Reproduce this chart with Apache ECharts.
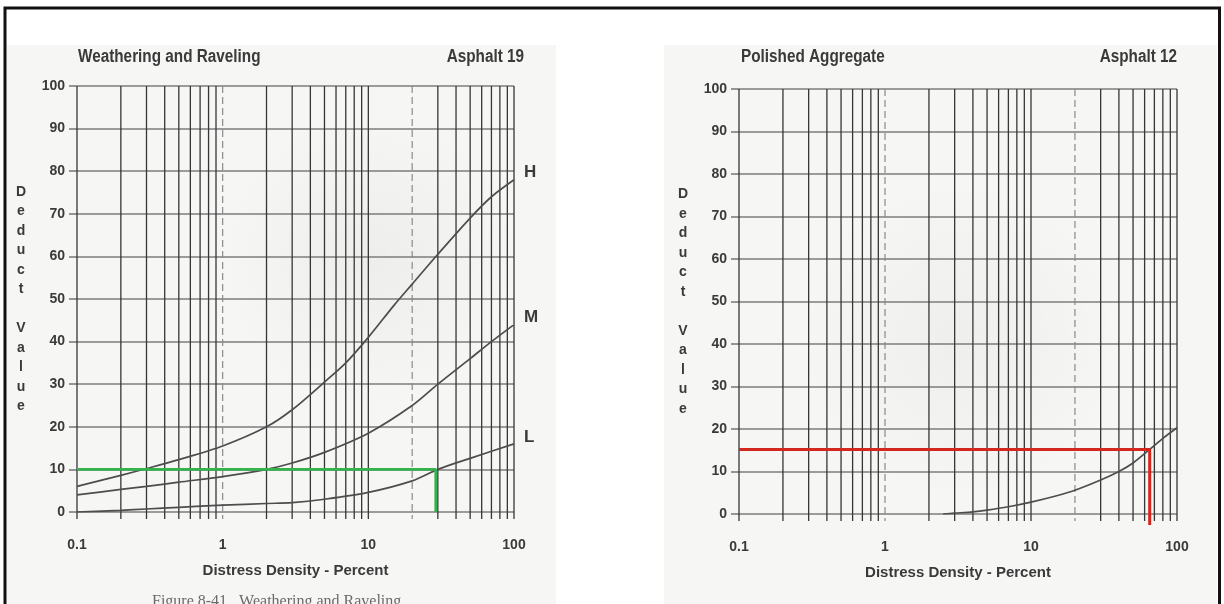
<!DOCTYPE html>
<html>
<head>
<meta charset="utf-8">
<script src="https://cdn.jsdelivr.net/npm/echarts@6/dist/echarts.min.js"></script>
<style>
  html, body { margin: 0; padding: 0; background: #ffffff; }
  #chart { width: 1224px; height: 604px; }
</style>
</head>
<body>
<div id="chart"></div>
<script>
// Log-grid rulings along the density axis (percent)
const densityTicks = [0.1, 0.2, 0.3, 0.4, 0.5, 0.6, 0.7, 0.8, 0.9,
                      1, 2, 3, 4, 5, 6, 7, 8, 9,
                      10, 20, 30, 40, 50, 60, 70, 80, 90, 100];
// Rulings printed lighter / broken on the sheet
const lightRulings = [1, 20];

// Weathering and Raveling (Asphalt 19): deduct value vs. distress density
const weatheringHigh = [[0.1, 6], [0.2, 8.6], [0.3, 10.2], [0.5, 12.3], [1, 15.5], [2, 20], [3, 24],
                        [5, 30.5], [7, 35], [10, 41], [15, 48.5], [20, 53.5], [30, 60.5], [50, 69], [70, 74], [100, 78]];
const weatheringMedium = [[0.1, 4], [0.2, 5.3], [0.3, 6], [0.5, 7], [1, 8.3], [2, 10], [3, 11.5], [5, 14],
                          [10, 18.5], [20, 25], [30, 30], [50, 36], [70, 40], [100, 44]];
const weatheringLow = [[0.1, 0], [0.2, 0.4], [0.3, 0.7], [0.5, 1.1], [1, 1.6], [2, 2], [3, 2.2], [5, 3],
                       [10, 4.6], [20, 7.3], [30, 10], [50, 12.6], [100, 16]];
// Reading taken on the L curve: density 29 % -> deduct 10
const weatheringReading = [[0.1, 10], [29, 10], [29, 0]];

// Polished Aggregate (Asphalt 12)
const polishedCurve = [[2.5, 0], [3, 0.2], [4, 0.5], [5, 0.9], [7, 1.7], [10, 2.8], [15, 4.3], [20, 5.6],
                       [30, 8], [40, 10], [50, 12], [65, 15.2], [80, 17.8], [100, 20.3]];
// Reading: density 65 % -> deduct 15.2 (leader drawn slightly past the axis)
const polishedReading = [[0.1, 15.2], [65, 15.2], [65, -2.6]];

const FONT = '"Liberation Sans",Arial,sans-serif';
const INK = '#3a3a3a';

const chart = echarts.init(document.getElementById('chart'));

function rulings(gridIdx) {
  return {
    type: 'custom',
    xAxisIndex: gridIdx,
    yAxisIndex: gridIdx,
    silent: true,
    clip: false,
    z: 1,
    data: densityTicks.map(v => [v, 0]),
    renderItem: function (params, api) {
      const v = api.value(0);
      const top = api.coord([v, 100]);
      const bottom = api.coord([v, 0]);
      const light = lightRulings.indexOf(v) >= 0;
      return {
        type: 'line',
        shape: { x1: top[0], y1: top[1], x2: bottom[0], y2: bottom[1] + 7 },
        style: light
          ? { stroke: '#8a8a8a', lineWidth: 1.2, lineDash: [7, 4] }
          : { stroke: '#363636', lineWidth: 1.3 }
      };
    }
  };
}

function curve(name, data, gridIdx, withLabel) {
  return {
    name: name,
    type: 'line',
    xAxisIndex: gridIdx,
    yAxisIndex: gridIdx,
    data: data,
    smooth: 0.3,
    symbol: 'none',
    z: 3,
    lineStyle: { color: '#4d4d4d', width: 1.7 },
    endLabel: withLabel ? {
      show: true, formatter: '{a}', distance: 10, offset: [0, -7],
      fontFamily: FONT, fontSize: 17, fontWeight: 'bold', color: INK
    } : { show: false }
  };
}

function xAxisFor(gridIdx) {
  return {
    gridIndex: gridIdx,
    type: 'log',
    logBase: 10,
    min: 0.1,
    max: 100,
    axisLine: { show: false },
    axisTick: { show: false },
    splitLine: { show: false },
    axisLabel: {
      margin: 26, fontFamily: FONT, fontSize: 14, fontWeight: 'bold', color: INK,
      formatter: v => String(+Number(v).toPrecision(3))
    },
    name: 'Distress Density - Percent',
    nameLocation: 'middle',
    nameGap: 51,
    nameTextStyle: { fontFamily: FONT, fontSize: 15, fontWeight: 'bold', color: INK }
  };
}

function yAxisFor(gridIdx) {
  return {
    gridIndex: gridIdx,
    type: 'value',
    min: 0,
    max: 100,
    interval: 10,
    axisLine: { show: false },
    axisTick: { show: true, length: 8, lineStyle: { color: '#7d7d7d', width: 1.6 } },
    splitLine: { show: true, lineStyle: { color: '#7d7d7d', width: 1.6 } },
    axisLabel: { margin: 12, fontFamily: FONT, fontSize: 14, fontWeight: 'bold', color: INK },
    name: 'D\ne\nd\nu\nc\nt\n\nV\na\nl\nu\ne',
    nameLocation: 'middle',
    nameRotate: 0,
    nameGap: 56,
    nameTextStyle: {
      align: 'center', verticalAlign: 'middle', lineHeight: 19.5,
      fontFamily: FONT, fontSize: 14, fontWeight: 'bold', color: INK
    }
  };
}

// Condensed-looking headings: bold sans squeezed horizontally
function heading(text, x, align) {
  return {
    type: 'text', z: 6, silent: true, x: x, y: 57, scaleX: 0.85,
    style: {
      text: text, x: 0, y: 0, align: align, verticalAlign: 'middle',
      font: 'bold 18px "Liberation Sans", Arial, sans-serif', fill: INK
    }
  };
}

// Faint grey haze on the sheet
function smudge(cx, cy, r, a) {
  return {
    type: 'circle', z: -5, silent: true, shape: { cx: cx, cy: cy, r: r },
    style: {
      fill: {
        type: 'radial', x: 0.5, y: 0.5, r: 0.5,
        colorStops: [{ offset: 0, color: 'rgba(0,0,0,' + a + ')' }, { offset: 1, color: 'rgba(0,0,0,0)' }]
      }
    }
  };
}

chart.setOption({
  backgroundColor: '#ffffff',
  animation: false,
  graphic: [
    { type: 'rect', z: -10, silent: true, shape: { x: 7, y: 45, width: 549, height: 570 }, style: { fill: '#f6f6f5' } },
    { type: 'rect', z: -10, silent: true, shape: { x: 664, y: 45, width: 553, height: 570 }, style: { fill: '#f6f6f5' } },
    smudge(370, 260, 150, 0.035),
    smudge(960, 340, 160, 0.03),
    heading('Weathering and Raveling', 78, 'left'),
    heading('Asphalt 19', 524, 'right'),
    heading('Polished Aggregate', 741, 'left'),
    heading('Asphalt 12', 1177, 'right'),
    { type: 'text', z: 5, silent: true, left: 152, top: 594,
      style: { text: 'Figure 8-41.  Weathering and Raveling', font: '16px "Liberation Serif", serif', fill: '#6a6a6a' } },
    { type: 'rect', z: 10, silent: true, shape: { x: 5, y: 8, width: 1214.5, height: 700 },
      style: { fill: 'none', stroke: '#111111', lineWidth: 3 } }
  ],
  grid: [
    { left: 77, top: 86, width: 437, height: 426 },
    { left: 739, top: 89, width: 438, height: 425 }
  ],
  xAxis: [xAxisFor(0), xAxisFor(1)],
  yAxis: [yAxisFor(0), yAxisFor(1)],
  series: [
    rulings(0),
    rulings(1),
    curve('H', weatheringHigh, 0, true),
    curve('M', weatheringMedium, 0, true),
    curve('L', weatheringLow, 0, true),
    curve('Polished', polishedCurve, 1, false),
    {
      name: 'reading-weathering', type: 'line', xAxisIndex: 0, yAxisIndex: 0,
      data: weatheringReading, symbol: 'none', z: 4, clip: false,
      lineStyle: { color: '#34b34a', width: 2.6 }
    },
    {
      name: 'reading-polished', type: 'line', xAxisIndex: 1, yAxisIndex: 1,
      data: polishedReading, symbol: 'none', z: 4, clip: false,
      lineStyle: { color: '#d3261e', width: 3 }
    }
  ]
});
</script>
</body>
</html>
